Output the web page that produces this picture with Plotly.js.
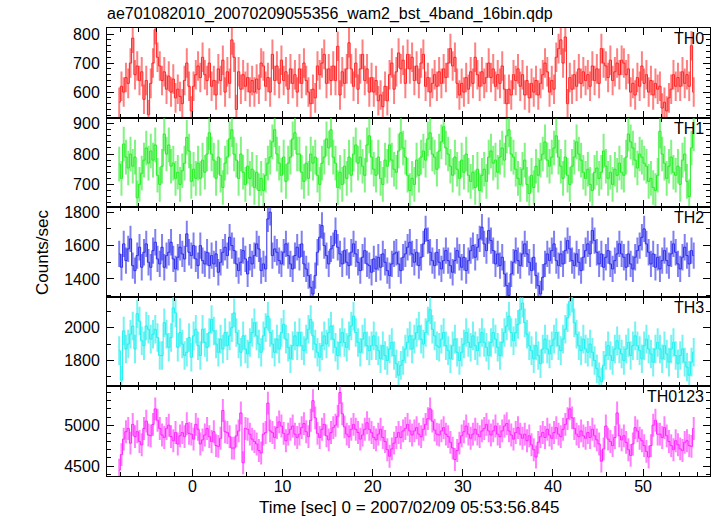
<!DOCTYPE html>
<html>
<head>
<meta charset="utf-8">
<script src="https://cdn.plot.ly/plotly-3.0.1.min.js"></script>
<style>html,body{margin:0;padding:0;background:#fff;}#chart{width:717px;height:516px;}</style>
</head>
<body>
<div id="chart"></div>
<script>
// ---- data ----
const chartTitle = "ae701082010_20070209055356_wam2_bst_4band_16bin.qdp";
const panelNames = ["TH0", "TH1", "TH2", "TH3", "TH0123"];
const binStart = -8.25;   // sec
const binWidth = 0.25;    // sec
const rateErrors = [51, 57, 79, 87, 140]; // typical 1-sigma error (counts/sec)

const th0 = [
565,620,600,650, 630,700,786,660, 690,640,670,575, 640,522,630,700,
815,720,690,640, 670,610,655,600, 645,580,610,585, 560,640,700,620,
535,620,660,690, 650,720,660,640, 700,620,640,590, 680,640,710,600,
670,630,780,720, 540,670,610,660, 620,650,600,640, 600,645,610,700,
690,620,650,600, 730,640,690,630, 710,640,670,610, 680,630,660,600,
680,630,700,640, 600,560,610,580, 690,660,700,730, 630,680,640,690,
640,758,590,670, 630,680,770,680, 620,700,610,680, 730,640,680,600,
650,600,640,570, 590,550,620,570, 660,700,610,670, 735,680,710,630,
730,680,720,640, 690,630,700,730, 620,650,600,630, 660,620,670,630,
680,650,700,750, 690,720,630,590, 630,600,650,610, 670,630,720,660,
620,670,630,650, 700,650,680,620, 660,630,690,610, 560,610,590,660,
640,680,620,660, 590,640,580,630, 600,640,590,630, 660,700,670,600,
640,610,720,750, 780,700,790,560, 650,610,660,620, 680,630,670,640,
660,620,690,640, 680,630,750,700, 690,650,710,640, 670,700,660,710,
700,660,680,600, 630,590,650,620, 690,630,660,600, 640,590,630,610,
620,545,565,535, 580,610,660,620, 650,620,670,630, 660,620,760,600
];
const th1 = [
767,720,833,790, 754,800,760,790, 656,700,737,780, 820,770,810,780,
830,730,700,760, 866,800,830,760, 770,720,740,700, 745,770,855,810,
710,750,720,770, 720,780,740,800, 870,800,780,720, 790,730,690,770,
790,850,880,800, 780,720,800,740, 700,760,720,750, 690,740,680,720,
680,730,770,790, 840,880,800,770, 730,790,710,770, 790,850,870,800,
800,740,710,770, 720,800,770,790, 730,700,770,790, 850,820,880,790,
770,690,740,700, 760,720,790,730, 800,830,770,790, 760,730,830,860,
790,750,730,790, 720,700,780,760, 830,780,750,740, 810,870,820,790,
730,680,720,700, 780,730,790,810, 780,850,870,800, 790,750,810,840,
890,820,800,760, 730,790,750,720, 780,740,800,730, 710,740,690,750,
680,730,750,710, 790,810,770,780, 740,790,820,780, 860,880,800,790,
750,720,700,750, 780,700,670,730, 690,760,730,780, 800,840,780,760,
790,820,860,790, 760,720,790,730, 700,760,790,840, 800,780,740,720,
750,700,680,740, 754,720,740,810, 760,720,740,700, 750,730,770,740,
730,790,866,840, 820,780,754,800, 790,770,760,710, 720,690,680,730,
875,800,770,720, 760,790,740,730, 760,700,780,800, 710,660,820,866
];
const th2 = [
1550,1470,1610,1510, 1580,1640,1480,1450, 1540,1590,1470,1560, 1610,1500,1470,1570,
1620,1520,1490,1590, 1470,1540,1560,1620, 1520,1460,1530,1590, 1550,1520,1670,1560,
1540,1600,1520,1480, 1600,1510,1490,1560, 1480,1540,1490,1550, 1440,1500,1560,1590,
1540,1650,1600,1570, 1490,1450,1500,1570, 1520,1430,1530,1490, 1540,1610,1580,1450,
1490,1460,1760,1800, 1540,1580,1560,1510, 1490,1560,1610,1540, 1490,1460,1540,1590,
1530,1610,1490,1460, 1420,1350,1310,1420, 1560,1650,1720,1600, 1540,1490,1580,1600,
1690,1590,1550,1490, 1570,1500,1480,1560, 1610,1550,1500,1450, 1530,1570,1490,1480,
1440,1520,1460,1530, 1470,1550,1500,1450, 1420,1490,1550,1560, 1490,1450,1530,1550,
1590,1620,1550,1500, 1560,1480,1530,1610, 1700,1630,1560,1510, 1480,1560,1500,1460,
1510,1570,1510,1480, 1440,1510,1570,1530, 1470,1530,1450,1510, 1570,1600,1530,1590,
1640,1710,1610,1570, 1690,1630,1570,1490, 1550,1480,1530,1430, 1360,1300,1430,1500,
1570,1510,1480,1550, 1610,1550,1500,1450, 1530,1420,1360,1310, 1410,1490,1550,1510,
1570,1610,1510,1480, 1550,1490,1570,1630, 1580,1510,1480,1550, 1500,1450,1530,1570,
1610,1550,1690,1630, 1560,1490,1550,1470, 1530,1570,1490,1460, 1510,1550,1610,1550,
1530,1470,1550,1490, 1460,1530,1570,1600, 1650,1700,1610,1560, 1490,1550,1470,1530,
1460,1510,1570,1510, 1480,1550,1610,1560, 1490,1460,1530,1590, 1540,1490,1570,1540
];
const th3 = [
1860,1680,1980,1870, 1900,1960,2010,1870, 2085,2040,1920,1890, 2010,1990,1930,1960,
1990,1940,1830,1830, 2030,1960,1880,1940, 2120,2090,1880,1970, 1900,1830,1850,1940,
1820,1950,1990,1890, 1830,1990,1910,1880, 1970,2050,1980,1900, 1850,1930,1870,1970,
1890,1950,2000,2090, 1970,1900,1850,1950, 1870,1840,1910,1970, 2030,1950,1900,1850,
1950,2000,2070,1970, 1900,1850,1930,1870, 1970,2020,1930,1880, 1810,1890,1950,1890,
1970,1890,1860,1930, 1990,2050,1950,1900, 1850,1820,1890,1950, 1900,1970,2010,1930,
1880,1830,1910,1970, 1910,1880,1950,2010, 2070,1970,1910,1850, 1930,1970,1890,1860,
1890,1950,1890,1860, 1810,1890,1830,1800, 1870,1910,1830,1780, 1710,1770,1800,1870,
1910,1950,1870,1930, 1970,2010,1930,1900, 1970,2040,2110,1990, 1950,1890,1880,1930,
1970,1890,1860,1810, 1890,1930,1850,1800, 1850,1900,1970,1910, 1880,1950,1890,1860,
1910,1970,1910,1880, 1830,1910,1970,1930, 1880,1830,1910,1970, 2010,2070,1970,1920,
1970,2020,2110,2150, 2030,1960,1890,1860, 1810,1890,1830,1780, 1870,1930,1870,1840,
1890,1930,1970,1890, 1860,1930,1990,2060, 2160,2180,2030,1960, 1890,1860,1930,1870,
1850,1900,1850,1800, 1750,1700,1670,1770, 1830,1890,1830,1800, 1870,1920,1870,1840,
1800,1870,1910,1830, 1890,1950,1890,1860, 1810,1890,1930,1870, 1840,1790,1870,1910,
1870,1810,1890,1840, 1790,1870,1910,1830, 1780,1830,1870,1790, 1760,1710,1790,1850
];
const th0123 = [
4450,4640,4830,4920, 4960,4780,5010,4860, 4920,4800,4760,4960, 5050,4880,4870,5010,
5200,5060,4960,4880, 4850,4960,5000,4860, 4810,4910,4770,4870, 4910,4860,5020,4900,
4890,4830,5010,4950, 4770,4820,4880,4960, 4860,4800,4920,4750, 4740,4840,5180,4920,
4910,4860,4720,4720, 4870,4930,5150,4540, 4960,4950,4890,4830, 4800,4770,4690,4660,
4890,4910,5270,4930, 4910,4850,4970,5040, 4990,4900,4810,4890, 4950,4990,4890,4850,
4890,4970,5020,4920, 4860,5060,5300,5090, 4900,4850,4950,5010, 4870,4820,4910,4970,
5000,5110,5400,5140, 4980,4890,4860,4950, 5010,4950,4910,4830, 4880,4950,5030,4950,
4910,4850,4820,4890, 4950,4850,4800,4700, 4620,4710,4780,4850, 4910,4850,4930,4960,
5010,4930,4880,4930, 4970,4890,4860,4950, 5010,5080,5200,5050, 4940,4890,4880,4930,
4970,4890,4860,4790, 4720,4580,4690,4780, 4870,4920,4990,4890, 4840,4890,4950,4890,
4860,4930,4960,5010, 4930,4880,4930,4990, 4890,4860,4930,4990, 5020,4930,4880,4830,
4910,4970,4890,4840, 4890,4810,4870,4760, 4700,4610,4790,4860, 4910,4850,4950,4880,
4840,4910,4970,4890, 4860,4950,5010,5080, 5200,5090,4960,4890, 4860,4930,4870,4840,
4910,4850,4950,4870, 4820,4770,4560,4710, 4990,4830,4800,4750, 4850,5150,4870,4820,
4870,4790,4700,4630, 4770,4970,4930,4840, 4810,4750,4680,4610, 4750,5000,5060,4890,
4890,4850,4970,4870, 4800,4750,4700,4810, 4760,4710,4690,4790, 4810,4750,4740,4960
];
const series = [th0, th1, th2, th3, th0123];

// ---- styling ----
const colors = ["#ff2222", "#22ee22", "#2a2aee", "#1ef0f0", "#ff22ff"];
const errColors = ["rgba(255,50,50,0.62)", "rgba(50,235,50,0.62)", "rgba(50,50,235,0.62)", "rgba(30,235,235,0.62)", "rgba(255,50,255,0.62)"];
const yRanges = [[512, 821], [625, 920], [1293, 1830], [1642, 2188], [4378, 5475]];
const yDticks = [100, 100, 200, 200, 500];
const yMinor = [20, 20, 100, 100, 100];
const xRange = [-9.48, 57.43];
const FONT = "Liberation Sans, Arial, Helvetica, sans-serif";

const traces = [];
const layout = {
  width: 717, height: 516,
  margin: {l: 107, r: 7, t: 28, b: 40},
  paper_bgcolor: "#fff", plot_bgcolor: "#fff",
  showlegend: false,
  font: {family: FONT, size: 16, color: "#000"},
  title: {text: chartTitle, x: 107/717, xanchor: "left", xref: "container", y: 1 - 13/516, yanchor: "middle", yref: "container", font: {family: FONT, size: 16, color: "#000"}},
  annotations: []
};

const n = series.length;
series.forEach((vals, i) => {
  const times = vals.map((_, k) => binStart + binWidth * (k + 0.5));
  const idx = i + 1;
  const xa = "x" + idx, ya = "y" + idx;
  traces.push({
    x: times, y: vals, xaxis: xa, yaxis: ya,
    type: "scatter", mode: "lines",
    line: {color: colors[i], width: 1, shape: "hvh"},
    error_y: {type: "constant", value: rateErrors[i], color: errColors[i], thickness: 2, width: 0},
    hoverinfo: "skip"
  });
  const top = 1 - i / n, bot = 1 - (i + 1) / n;
  layout["xaxis" + idx] = {
    domain: [0, 1], anchor: ya, range: xRange,
    showline: true, linecolor: "#000", linewidth: 1, mirror: "ticks",
    ticks: "inside", ticklen: 7, tickcolor: "#000", tickwidth: 1,
    dtick: 10, tick0: 0,
    minor: {dtick: 2, ticklen: 4, tickcolor: "#000", ticks: "inside"},
    showgrid: false, zeroline: false,
    showticklabels: i === n - 1,
    ticklabelstandoff: -4,
    tickfont: {family: FONT, size: 16, color: "#000"}
  };
  layout["yaxis" + idx] = {
    domain: [bot, top], anchor: xa, range: yRanges[i],
    showline: true, linecolor: "#000", linewidth: 1, mirror: "ticks",
    ticks: "inside", ticklen: 7, tickcolor: "#000", tickwidth: 1,
    dtick: yDticks[i], tick0: 0,
    minor: {dtick: yMinor[i], ticklen: 4, tickcolor: "#000", ticks: "inside"},
    showgrid: false, zeroline: false,
    tickfont: {family: FONT, size: 16, color: "#000"},
    ticklabelstandoff: 3
  };
  layout.annotations.push({
    text: panelNames[i], xref: xa + " domain", yref: ya + " domain",
    x: 1, y: 1, xanchor: "right", yanchor: "top", xshift: -4, yshift: 0,
    showarrow: false, font: {family: FONT, size: 16, color: "#000"}
  });
});

layout.annotations.push({
  text: "Counts/sec", xref: "paper", yref: "paper", x: -65/603, y: 0.5,
  xanchor: "center", yanchor: "middle", textangle: -90, showarrow: false,
  font: {family: FONT, size: 17, color: "#000"}
});
layout.annotations.push({
  text: "Time [sec] 0 = 2007/02/09 05:53:56.845", xref: "paper", yref: "paper",
  x: 0.5, y: -31/448, xanchor: "center", yanchor: "middle", showarrow: false,
  font: {family: FONT, size: 17, color: "#000"}
});

Plotly.newPlot("chart", traces, layout, {staticPlot: true, displayModeBar: false});
</script>
</body>
</html>
